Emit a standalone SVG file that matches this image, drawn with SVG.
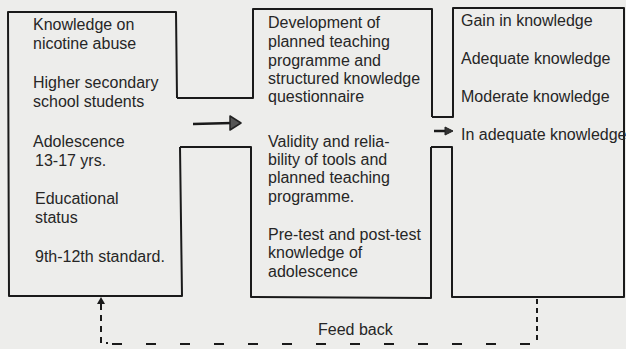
<svg xmlns="http://www.w3.org/2000/svg" width="626" height="349" viewBox="0 0 626 349">
<defs>
<style>
.bg{fill:#ededeb}
.box{fill:none;stroke:#1a1a1a;stroke-width:2;stroke-linejoin:round}
.t{font-family:"Liberation Sans",Arial,sans-serif;font-size:16px;fill:#262626}
.dash{fill:none;stroke:#1a1a1a;stroke-width:2}
</style>
</defs>
<rect class="bg" x="0" y="0" width="626" height="349"/>
<g id="node-input">
<path class="box" d="M177,98 L176,12 L8,12 L9,296 L182,296 L180,147"/>
<text class="t" x="33" y="30">Knowledge on</text>
<text class="t" x="33" y="49">nicotine abuse</text>
<text class="t" x="33" y="88">Higher secondary</text>
<text class="t" x="33" y="107">school students</text>
<text class="t" x="33" y="147">Adolescence</text>
<text class="t" x="35" y="166">13-17 yrs.</text>
<text class="t" x="35" y="204">Educational</text>
<text class="t" x="35" y="223">status</text>
<text class="t" x="35" y="262">9th-12th standard.</text>
</g>
<g id="node-process">
<path class="box" d="M177,98 L253,98 L253,9 L432,9 L432,117"/>
<path class="box" d="M180,147 L251,147 L251,297 L431,298 L431,147"/>
<text class="t" x="268" y="28">Development of</text>
<text class="t" x="268" y="47">planned teaching</text>
<text class="t" x="268" y="66">programme and</text>
<text class="t" x="268" y="84">structured knowledge</text>
<text class="t" x="268" y="102">questionnaire</text>
<text class="t" x="268" y="147">Validity and relia-</text>
<text class="t" x="268" y="165">bility of tools and</text>
<text class="t" x="268" y="183">planned teaching</text>
<text class="t" x="268" y="202">programme.</text>
<text class="t" x="268" y="240">Pre-test and post-test</text>
<text class="t" x="268" y="258">knowledge of</text>
<text class="t" x="268" y="277">adolescence</text>
</g>
<g id="node-output">
<path class="box" d="M432,117 L453,117 L453,8 L624,8 L624,297 L452,297 L452,147 L431,147"/>
<text class="t" x="461" y="26">Gain in knowledge</text>
<text class="t" x="461" y="64">Adequate knowledge</text>
<text class="t" x="461" y="102">Moderate knowledge</text>
<text class="t" x="461" y="140">In adequate knowledge</text>
</g>
<g id="connectors">
<line x1="193" y1="124" x2="232" y2="123" stroke="#1a1a1a" stroke-width="2.5"/>
<polygon points="230,116 241,123 230,130" fill="#555" stroke="#222" stroke-width="1.5" stroke-linejoin="round"/>
<line x1="434" y1="131" x2="446" y2="131" stroke="#1a1a1a" stroke-width="2.5"/>
<polygon points="445,127 453,131 445,135" fill="#333" stroke="#222" stroke-width="1"/>
<line class="dash" x1="537" y1="299" x2="537" y2="344" stroke-dasharray="5 4"/>
<line class="dash" x1="530" y1="344" x2="110" y2="344" stroke-dasharray="10 24"/>
<path class="dash" d="M101,304 L101,343 L108,343" stroke-dasharray="6 5"/>
<polygon points="101,297 97,304 105,304" fill="#1a1a1a"/>
<text class="t" x="318" y="335">Feed back</text>
</g>
</svg>
